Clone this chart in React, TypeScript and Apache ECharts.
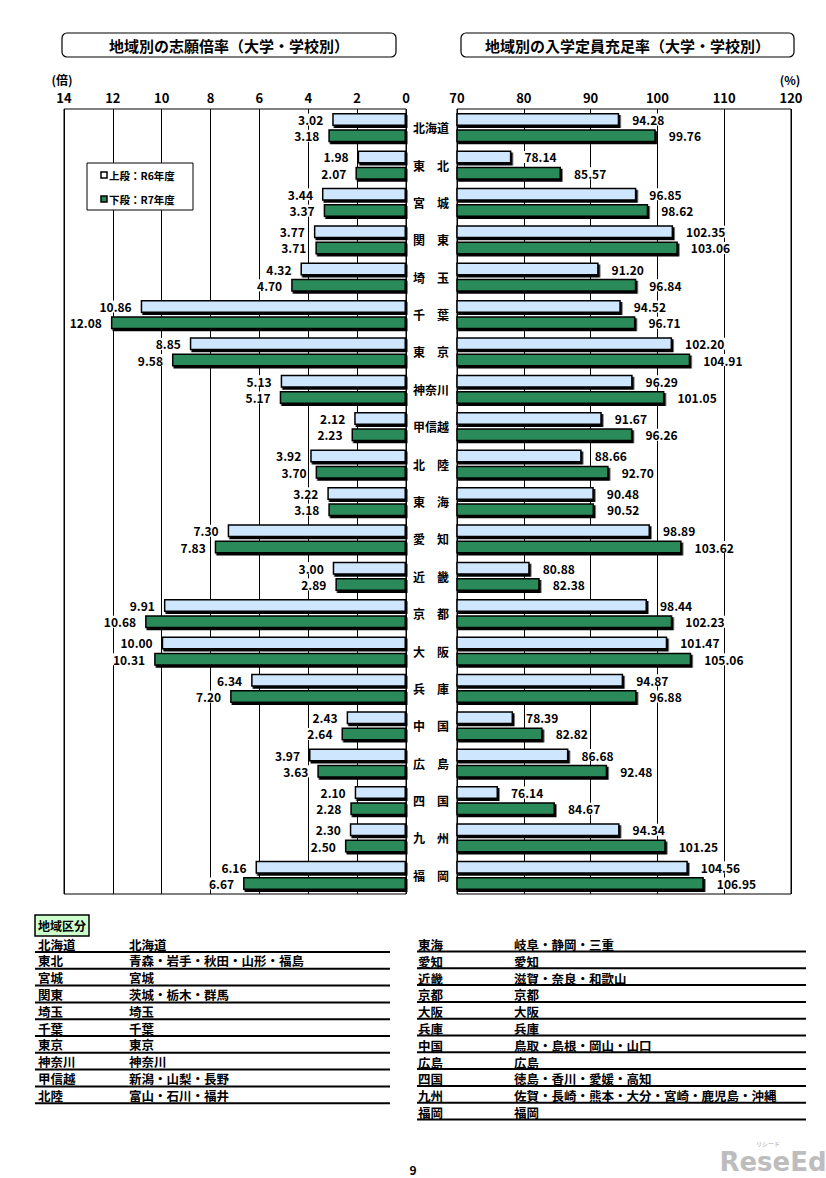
import React, { useEffect, useRef } from "react";
import * as echarts from "echarts";

const categories = ["北海道", "東　北", "宮　城", "関　東", "埼　玉", "千　葉", "東　京", "神奈川", "甲信越", "北　陸", "東　海", "愛　知", "近　畿", "京　都", "大　阪", "兵　庫", "中　国", "広　島", "四　国", "九　州", "福　岡"];
const ratioR6 = [3.02, 1.98, 3.44, 3.77, 4.32, 10.86, 8.85, 5.13, 2.12, 3.92, 3.22, 7.30, 3.00, 9.91, 10.00, 6.34, 2.43, 3.97, 2.10, 2.30, 6.16];
const ratioR7 = [3.18, 2.07, 3.37, 3.71, 4.70, 12.08, 9.58, 5.17, 2.23, 3.70, 3.18, 7.83, 2.89, 10.68, 10.31, 7.20, 2.64, 3.63, 2.28, 2.50, 6.67];
const fillR6 = [94.28, 78.14, 96.85, 102.35, 91.20, 94.52, 102.20, 96.29, 91.67, 88.66, 90.48, 98.89, 80.88, 98.44, 101.47, 94.87, 78.39, 86.68, 76.14, 94.34, 104.56];
const fillR7 = [99.76, 85.57, 98.62, 103.06, 96.84, 96.71, 104.91, 101.05, 96.26, 92.70, 90.52, 103.62, 82.38, 102.23, 105.06, 96.88, 82.82, 92.48, 84.67, 101.25, 106.95];

const leftRegions = ["北海道", "東北", "宮城", "関東", "埼玉", "千葉", "東京", "神奈川", "甲信越", "北陸"];
const leftPrefs = ["北海道", "青森・岩手・秋田・山形・福島", "宮城", "茨城・栃木・群馬", "埼玉", "千葉", "東京", "神奈川", "新潟・山梨・長野", "富山・石川・福井"];
const rightRegions = ["東海", "愛知", "近畿", "京都", "大阪", "兵庫", "中国", "広島", "四国", "九州", "福岡"];
const rightPrefs = ["岐阜・静岡・三重", "愛知", "滋賀・奈良・和歌山", "京都", "大阪", "兵庫", "鳥取・島根・岡山・山口", "広島", "徳島・香川・愛媛・高知", "佐賀・長崎・熊本・大分・宮崎・鹿児島・沖縄", "福岡"];

const FONT = "'Noto Sans CJK JP', 'Noto Sans', sans-serif";
const BLUE = "#cfe6ff";
const GREEN = "#2b8a5a";

export default function App() {
  const ref = useRef<HTMLDivElement>(null);
  useEffect(() => {
    document.body.style.margin = "0";
    if (!ref.current) return;
    const chart = echarts.init(ref.current, null, { renderer: "svg" });

    const barStyle = (color: string) => ({
      color,
      borderColor: "#000",
      borderWidth: 1.5,
      shadowColor: "#000",
      shadowBlur: 0,
      shadowOffsetX: 1.5,
      shadowOffsetY: 2,
    });
    const lbl = (pos: string, dist: number) => ({
      show: true,
      position: pos,
      distance: dist,
      formatter: (p: any) => Number(p.value).toFixed(2),
      color: "#000",
      fontWeight: "bold",
      fontSize: 12,
      fontFamily: FONT,
      backgroundColor: "#fff",
      padding: [0, 1],
    });
    const axisLabel = {
      color: "#000",
      fontWeight: "bold",
      fontSize: 13,
      fontFamily: FONT,
      margin: 5,
    };

    const graphics: any[] = [];
    const titleBox = (x: number, w: number, text: string) => {
      graphics.push({
        type: "rect",
        shape: { x, y: 33, width: w, height: 24, r: 5 },
        style: { fill: "#fff", stroke: "#000", lineWidth: 1.2 },
      });
      graphics.push({
        type: "text",
        x: x + w / 2,
        y: 45,
        style: { text, fill: "#000", font: `bold 15px ${FONT}`, align: "center", verticalAlign: "middle" },
      });
    };
    titleBox(62, 334, "地域別の志願倍率（大学・学校別）");
    titleBox(461, 333, "地域別の入学定員充足率（大学・学校別）");
    graphics.push({ type: "text", x: 62, y: 79, style: { text: "(倍)", fill: "#000", font: `bold 12px ${FONT}`, align: "center", verticalAlign: "middle" } });
    graphics.push({ type: "text", x: 790, y: 79, style: { text: "(%)", fill: "#000", font: `bold 12px ${FONT}`, align: "center", verticalAlign: "middle" } });

    // Legend
    graphics.push({ type: "rect", z: 10, shape: { x: 87, y: 163, width: 106, height: 47 }, style: { fill: "#fff", stroke: "#000", lineWidth: 1 } });
    graphics.push({ type: "rect", z: 11, shape: { x: 101, y: 172, width: 6, height: 6 }, style: { fill: "#fff", stroke: "#000", lineWidth: 1.5 } });
    graphics.push({ type: "rect", z: 11, shape: { x: 101, y: 196, width: 6, height: 6 }, style: { fill: GREEN, stroke: "#000", lineWidth: 1.5 } });
    graphics.push({ type: "text", z: 11, x: 109, y: 175, style: { text: "上段：R6年度", fill: "#000", font: `bold 10.5px ${FONT}`, verticalAlign: "middle" } });
    graphics.push({ type: "text", z: 11, x: 109, y: 199, style: { text: "下段：R7年度", fill: "#000", font: `bold 10.5px ${FONT}`, verticalAlign: "middle" } });

    // Table
    graphics.push({ type: "rect", shape: { x: 35, y: 915, width: 54, height: 21 }, style: { fill: "#ccffcc", stroke: "#000", lineWidth: 1.5 } });
    graphics.push({ type: "text", x: 62, y: 925.5, style: { text: "地域区分", fill: "#000", font: `bold 12px ${FONT}`, align: "center", verticalAlign: "middle" } });
    const rowH = 16.8;
    leftRegions.forEach((r, i) => {
      const y = 944 + i * rowH;
      graphics.push({ type: "text", x: 38, y, style: { text: r, fill: "#000", font: `bold 12.5px ${FONT}`, verticalAlign: "middle" } });
      graphics.push({ type: "text", x: 129, y, style: { text: leftPrefs[i], fill: "#000", font: `bold 12.5px ${FONT}`, verticalAlign: "middle" } });
      graphics.push({ type: "line", shape: { x1: 35, y1: y + 8, x2: 390, y2: y + 8 }, style: { stroke: "#000", lineWidth: 2 } });
    });
    rightRegions.forEach((r, i) => {
      const y = 944.5 + i * rowH;
      graphics.push({ type: "text", x: 418, y, style: { text: r, fill: "#000", font: `bold 12.5px ${FONT}`, verticalAlign: "middle" } });
      graphics.push({ type: "text", x: 514, y, style: { text: rightPrefs[i], fill: "#000", font: `bold 12.5px ${FONT}`, verticalAlign: "middle" } });
      graphics.push({ type: "line", shape: { x1: 417, y1: y + 7, x2: 806, y2: y + 7 }, style: { stroke: "#000", lineWidth: 2 } });
    });
    // Page number and watermark
    graphics.push({ type: "text", x: 413, y: 1163, style: { text: "9", fill: "#000", font: `bold 12px ${FONT}`, align: "center" } });
    graphics.push({ type: "text", x: 768, y: 1140, style: { text: "リシード", fill: "#c8c8c8", font: `bold 6px ${FONT}`, align: "center" } });
    graphics.push({ type: "text", x: 773, y: 1162, style: { text: "ReseEd", fill: "#bdbdbd", font: `bold 26px 'DejaVu Sans', sans-serif`, align: "center", verticalAlign: "middle" } });

    chart.setOption({
      animation: false,
      backgroundColor: "#fff",
      grid: [
        { left: 64, top: 109, width: 342, height: 785, show: true, borderColor: "#000", borderWidth: 1, backgroundColor: "transparent" },
        { left: 457, top: 109, width: 334, height: 785, show: true, borderColor: "#000", borderWidth: 1, backgroundColor: "transparent" },
      ],
      xAxis: [
        {
          gridIndex: 0, type: "value", min: 0, max: 14, interval: 2, inverse: true, position: "top",
          axisLine: { show: false }, axisTick: { show: false },
          splitLine: { show: true, lineStyle: { color: "#000", width: 1 } },
          axisLabel,
        },
        {
          gridIndex: 1, type: "value", min: 70, max: 120, interval: 10, position: "top",
          axisLine: { show: false }, axisTick: { show: false },
          splitLine: { show: true, lineStyle: { color: "#000", width: 1 } },
          axisLabel,
        },
      ],
      yAxis: [
        {
          gridIndex: 0, type: "category", data: categories, inverse: true,
          axisLine: { show: false }, axisTick: { show: false }, axisLabel: { show: false }, splitLine: { show: false },
        },
        {
          gridIndex: 1, type: "category", data: categories, inverse: true,
          axisLine: { show: false }, axisTick: { show: false }, splitLine: { show: false },
          axisLabel: { color: "#000", fontWeight: "bold", fontSize: 12, fontFamily: FONT, align: "center", margin: 26 },
        },
      ],
      series: [
        { name: "上段：R6年度", type: "bar", xAxisIndex: 0, yAxisIndex: 0, data: ratioR6, barWidth: 13, barGap: "25%", itemStyle: barStyle(BLUE), label: lbl("left", 8) },
        { name: "下段：R7年度", type: "bar", xAxisIndex: 0, yAxisIndex: 0, data: ratioR7, barWidth: 13, barGap: "25%", itemStyle: barStyle(GREEN), label: lbl("left", 8) },
        { name: "上段：R6年度", type: "bar", xAxisIndex: 1, yAxisIndex: 1, data: fillR6, barWidth: 13, barGap: "25%", clip: true, itemStyle: barStyle(BLUE), label: lbl("right", 12) },
        { name: "下段：R7年度", type: "bar", xAxisIndex: 1, yAxisIndex: 1, data: fillR7, barWidth: 13, barGap: "25%", clip: true, itemStyle: barStyle(GREEN), label: lbl("right", 12) },
      ],
      graphic: graphics,
    });
    return () => chart.dispose();
  }, []);
  return <div ref={ref} style={{ width: 826, height: 1178 }} />;
}
